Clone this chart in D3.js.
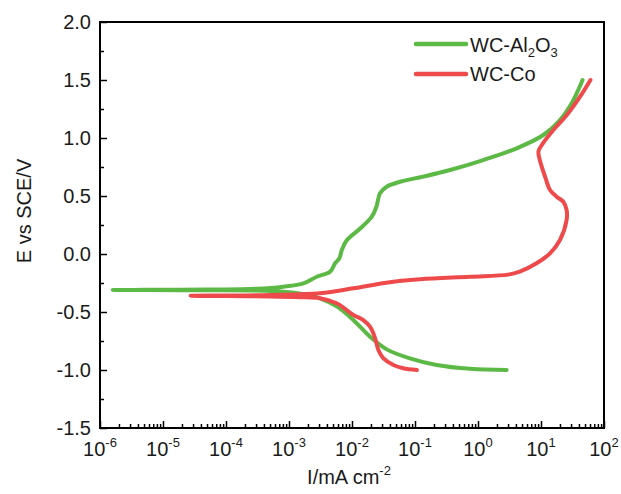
<!DOCTYPE html>
<html>
<head>
<meta charset="utf-8">
<script src="https://cdn.jsdelivr.net/npm/d3@7"></script>
<style>
  html, body { margin: 0; padding: 0; background: #fff; }
  svg { display: block; font-family: "Liberation Sans", Arial, sans-serif; }
</style>
</head>
<body>
<svg id="chart" width="621" height="494"></svg>
<script>
// ---- data (I in mA cm^-2, E in V vs SCE), in scan order ----
const seriesNames = ["WC-Al2O3", "WC-Co"];
const seriesColors = ["#5cb946", "#ee4a4c"];

const alI = [2.85, 0.75, 0.22, 0.083, 0.035, 0.0193, 0.0105, 0.0058, 0.0031, 0.00166, 0.0008, 0.0003, 0.00005, 0.000005, 0.0000016,
             0.000005, 0.00005, 0.0003, 0.00081, 0.0017, 0.00276, 0.0045, 0.0054, 0.0063, 0.0069, 0.0083, 0.0135, 0.0205, 0.0245, 0.0278, 0.0355, 0.058, 0.135, 0.36, 1.21, 4.1, 10.9, 20, 30.7, 39, 45.7];
const alE = [-1.0, -0.99, -0.957, -0.90, -0.82, -0.713, -0.569, -0.454, -0.382, -0.345, -0.325, -0.315, -0.312, -0.311, -0.31,
             -0.309, -0.307, -0.300, -0.282, -0.253, -0.196, -0.152, -0.08, -0.037, 0.034, 0.12, 0.22, 0.32, 0.41, 0.523, 0.58, 0.623, 0.667, 0.724, 0.81, 0.911, 1.026, 1.155, 1.30, 1.414, 1.5];

const coI = [0.107, 0.065, 0.0455, 0.0316, 0.0262, 0.0241, 0.0218, 0.0193, 0.0151, 0.0105, 0.00824, 0.0057, 0.0031, 0.0015, 0.0005, 0.0001, 0.0000275,
             0.0001, 0.0005, 0.0031, 0.0105, 0.035, 0.12, 0.75, 3.0, 4.6, 8.5, 13.9, 20, 25.5, 25.5, 22.6, 17.7, 13.9, 11.6, 9.9, 9.1, 10.3, 15.7, 25.7, 41.7, 61];
const coE = [-1.0, -0.985, -0.957, -0.90, -0.828, -0.756, -0.684, -0.626, -0.569, -0.526, -0.483, -0.425, -0.382, -0.372, -0.366, -0.363, -0.36,
             -0.358, -0.353, -0.339, -0.296, -0.247, -0.218, -0.196, -0.178, -0.152, -0.08, 0.006, 0.121, 0.293, 0.38, 0.45, 0.494, 0.552, 0.667, 0.782, 0.882, 0.94, 1.069, 1.198, 1.356, 1.5];

const xDecades = [-6, -5, -4, -3, -2, -1, 0, 1, 2];
const yTicks = [-1.5, -1.0, -0.5, 0.0, 0.5, 1.0, 1.5, 2.0];
const yMinorTicks = [-1.25, -0.75, -0.25, 0.25, 0.75, 1.25, 1.75];

// ---- layout ----
const svg = d3.select("#chart");
const L = 100, T = 22, R = 604, B = 428;
const x = d3.scaleLog().domain([1e-6, 1e2]).range([L, R]);
const y = d3.scaleLinear().domain([-1.5, 2.0]).range([B, T]);
const fs = 20, fsSup = 13;
const txt = "#1a1a1a";

// minor x ticks
const xMinor = [];
xDecades.slice(0, -1).forEach(d => { for (let k = 2; k <= 9; k++) xMinor.push(k * Math.pow(10, d)); });

// x axis
const gx = svg.append("g").attr("transform", `translate(0,${B})`);
gx.call(d3.axisBottom(x).tickValues(xMinor).tickSize(-4).tickFormat(""));
gx.call(g => g.select(".domain").remove());
const gx2 = svg.append("g").attr("transform", `translate(0,${B})`);
gx2.call(d3.axisBottom(x).tickValues(xDecades.map(d => Math.pow(10, d))).tickSize(-7).tickFormat(""));
gx2.call(g => g.select(".domain").remove());

// x tick labels with superscripts
const xl = svg.append("g");
xDecades.forEach(d => {
  const t = xl.append("text").attr("x", x(Math.pow(10, d))).attr("y", 456)
    .attr("text-anchor", "middle").attr("font-size", fs).attr("fill", txt);
  t.append("tspan").text("10");
  t.append("tspan").attr("dy", -9).attr("font-size", fsSup).text(String(d));
});

// y axis
const gy = svg.append("g").attr("transform", `translate(${L},0)`);
gy.call(d3.axisLeft(y).tickValues(yMinorTicks).tickSize(-4).tickFormat(""));
gy.call(g => g.select(".domain").remove());
const gy2 = svg.append("g").attr("transform", `translate(${L},0)`);
gy2.call(d3.axisLeft(y).tickValues(yTicks).tickSize(-7).tickPadding(9).tickFormat(v => v.toFixed(1)));
gy2.call(g => g.select(".domain").remove());
gy2.selectAll("text").attr("font-size", fs).attr("font-family", "Liberation Sans, Arial, sans-serif").attr("fill", txt);
svg.selectAll(".tick line").attr("stroke", "#000").attr("stroke-width", 1.5);

// frame
svg.append("rect").attr("x", L).attr("y", T).attr("width", R - L).attr("height", B - T)
  .attr("fill", "none").attr("stroke", "#000").attr("stroke-width", 2);

// axis titles
svg.append("text").attr("transform", `translate(31,211) rotate(-90)`)
  .attr("text-anchor", "middle").attr("font-size", fs).attr("fill", txt).text("E vs SCE/V");
const xt = svg.append("text").attr("x", 349).attr("y", 484).attr("text-anchor", "middle")
  .attr("font-size", fs).attr("fill", txt);
xt.append("tspan").text("I/mA cm");
xt.append("tspan").attr("dy", -9).attr("font-size", fsSup).text("-2");

// curves
const line = d3.line().x(d => x(d[0])).y(d => y(d[1])).curve(d3.curveCatmullRom.alpha(0.5));
svg.append("clipPath").attr("id", "clip").append("rect")
  .attr("x", L).attr("y", T).attr("width", R - L).attr("height", B - T);
const series = [d3.zip(alI, alE), d3.zip(coI, coE)];
series.forEach((s, i) => {
  svg.append("path").datum(s).attr("d", line).attr("fill", "none")
    .attr("stroke", seriesColors[i]).attr("stroke-width", 4)
    .attr("stroke-linejoin", "round").attr("stroke-linecap", "round")
    .attr("clip-path", "url(#clip)");
});

// legend
const lg = svg.append("g");
[0, 1].forEach(i => {
  const yy = 44 + i * 30;
  lg.append("line").attr("x1", 416).attr("x2", 466).attr("y1", yy).attr("y2", yy)
    .attr("stroke", seriesColors[i]).attr("stroke-width", 4.5).attr("stroke-linecap", "round");
});
const t1 = lg.append("text").attr("x", 470).attr("y", 52).attr("font-size", fs).attr("fill", txt);
t1.append("tspan").text("WC-Al");
t1.append("tspan").attr("dy", 5).attr("font-size", fsSup).text("2");
t1.append("tspan").attr("dy", -5).text("O");
t1.append("tspan").attr("dy", 5).attr("font-size", fsSup).text("3");
lg.append("text").attr("x", 470).attr("y", 81).attr("font-size", fs).attr("fill", txt).text("WC-Co");
</script>
</body>
</html>
